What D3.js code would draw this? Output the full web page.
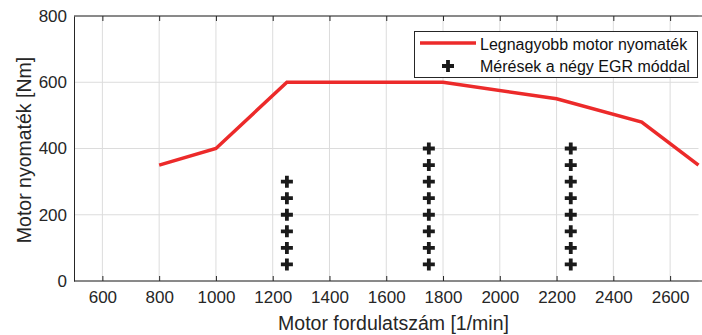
<!DOCTYPE html>
<html>
<head>
<meta charset="utf-8">
<script src="https://cdn.jsdelivr.net/npm/d3@7"></script>
<style>
  body { margin: 0; background: #fff; }
  svg { font-family: Arial, "Liberation Sans", sans-serif; }
</style>
</head>
<body>
<svg width="702" height="335"></svg>
<script>
// Max torque curve
const torqueRpm = [800, 1000, 1250, 1800, 2200, 2500, 2700];
const torqueNm = [350, 400, 600, 600, 550, 480, 350];

// Measurement points (rpm, Nm)
const measRpm = [1250, 1250, 1250, 1250, 1250, 1250,
  1750, 1750, 1750, 1750, 1750, 1750, 1750, 1750,
  2250, 2250, 2250, 2250, 2250, 2250, 2250, 2250];
const measNm = [50, 100, 150, 200, 250, 300,
  50, 100, 150, 200, 250, 300, 350, 400,
  50, 100, 150, 200, 250, 300, 350, 400];

const xTicks = [600, 800, 1000, 1200, 1400, 1600, 1800, 2000, 2200, 2400, 2600];
const yTicks = [0, 200, 400, 600, 800];
const legendLabels = ["Legnagyobb motor nyomaték", "Mérések a négy EGR móddal"];

const svg = d3.select("svg");
const plotLeft = 74, plotRight = 698.5, plotTop = 16, plotBottom = 281;

const x = d3.scaleLinear().domain([500, 2700]).range([plotLeft, plotRight]);
const y = d3.scaleLinear().domain([0, 800]).range([plotBottom, plotTop]);

// grid
svg.append("g").selectAll("line").data(xTicks).enter().append("line")
  .attr("x1", d => x(d)).attr("x2", d => x(d))
  .attr("y1", plotTop).attr("y2", plotBottom)
  .attr("stroke", "#dcdcdc").attr("stroke-width", 1);
svg.append("g").selectAll("line").data(yTicks).enter().append("line")
  .attr("x1", plotLeft).attr("x2", plotRight)
  .attr("y1", d => y(d)).attr("y2", d => y(d))
  .attr("stroke", "#dcdcdc").attr("stroke-width", 1);

// axes
const xAxis = svg.append("g").attr("transform", `translate(0,${plotBottom})`)
  .call(d3.axisBottom(x).tickValues(xTicks).tickSize(-5).tickPadding(10).tickFormat(d3.format("d")));
const xAxisTop = svg.append("g").attr("transform", `translate(0,${plotTop})`)
  .call(d3.axisTop(x).tickValues(xTicks).tickSize(-5).tickFormat(""));
const yAxis = svg.append("g").attr("transform", `translate(${plotLeft},0)`)
  .call(d3.axisLeft(y).tickValues(yTicks).tickSize(0).tickPadding(7).tickFormat(d3.format("d")));

[xAxis, xAxisTop, yAxis].forEach(a => {
  a.select(".domain").attr("stroke", "#262626").attr("stroke-width", 1);
  a.selectAll(".tick line").attr("stroke", "#262626");
  a.selectAll("text").attr("fill", "#262626").style("font-size", "17px").style("font-family", "Arial, 'Liberation Sans', sans-serif");
});
xAxis.select(".domain").attr("d", `M${plotLeft},0H${plotRight + 4}`);
xAxisTop.select(".domain").attr("d", `M${plotLeft},0H${plotRight + 4}`);

// axis titles
svg.append("text")
  .attr("x", 393.5).attr("y", 330)
  .attr("text-anchor", "middle").attr("fill", "#262626")
  .style("font-size", "19.5px")
  .text("Motor fordulatszám [1/min]");
svg.append("text")
  .attr("transform", `translate(31,150) rotate(-90)`)
  .attr("text-anchor", "middle").attr("fill", "#262626")
  .style("font-size", "19.5px")
  .text("Motor nyomaték [Nm]");

// torque line
const line = d3.line().x((d, i) => x(torqueRpm[i])).y(d => y(d));
svg.append("path").datum(torqueNm)
  .attr("d", line)
  .attr("fill", "none").attr("stroke", "#ec2a2a").attr("stroke-width", 3.5);

// plus marker
function plus(g, cx, cy) {
  g.append("path")
    .attr("d", `M${cx - 6},${cy}H${cx + 6}M${cx},${cy - 6}V${cy + 6}`)
    .attr("stroke", "#1a1a1a").attr("stroke-width", 3.8).attr("fill", "none");
}
const meas = svg.append("g");
measRpm.forEach((r, i) => plus(meas, x(r), y(measNm[i])));

// legend
const lg = svg.append("g");
lg.append("rect").attr("x", 414.5).attr("y", 31.5).attr("width", 283).attr("height", 46)
  .attr("fill", "#fff").attr("stroke", "#262626").attr("stroke-width", 1);
lg.append("line").attr("x1", 420).attr("x2", 476).attr("y1", 43).attr("y2", 43)
  .attr("stroke", "#ec2a2a").attr("stroke-width", 3.5);
plus(lg, 448, 66);
lg.selectAll("text").data(legendLabels).enter().append("text")
  .attr("x", 480).attr("y", (d, i) => 50 + i * 21.5)
  .attr("fill", "#111").style("font-size", "16px")
  .text(d => d);
</script>
</body>
</html>
